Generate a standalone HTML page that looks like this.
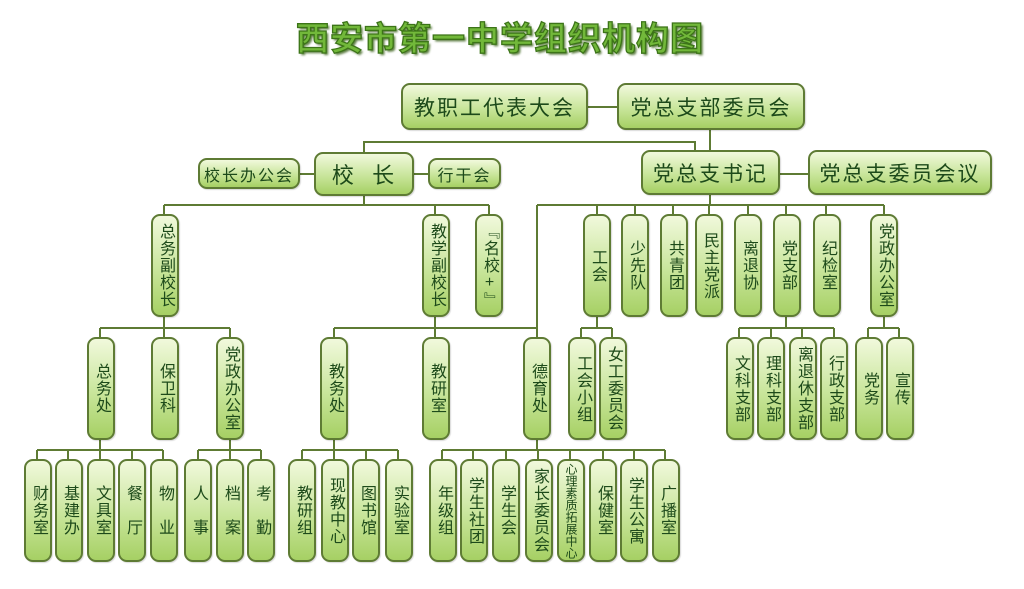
<!DOCTYPE html>
<html><head><meta charset="utf-8">
<style>
html,body{margin:0;padding:0;background:#fff;}
body{width:1024px;height:589px;position:relative;overflow:hidden;font-family:"Liberation Sans","Noto Sans CJK SC",sans-serif;}
.b{position:absolute;box-sizing:border-box;border:2px solid #5e7b34;border-radius:9px;background:linear-gradient(#f1f9dc,#c8e59a 55%,#a6d064);color:#1d4a1a;display:flex;align-items:center;justify-content:center;box-shadow:1px 1px 1px rgba(0,0,0,.15);}
.v{writing-mode:vertical-rl;text-orientation:upright;font-size:16px;letter-spacing:1px;line-height:1;}
.h{font-size:20px;letter-spacing:2px;}
#title{position:absolute;left:0;width:1000px;top:12px;text-align:center;font-size:33px;font-weight:bold;color:#72b83a;letter-spacing:1px;-webkit-text-stroke:1.3px #3c7418;text-shadow:2px 2px 2px #5d7d42;font-family:"Noto Sans CJK SC",sans-serif;}
svg{position:absolute;left:0;top:0;}
</style></head><body>
<div id="title">西安市第一中学组织机构图</div>
<svg width="1024" height="589"><g stroke="#5e7b34" stroke-width="2" fill="none">
<path d="M588 107H617M710 130V150M364 152V142H695V150M300 174H314M414 174H428M780 174H808"/>
<path d="M364 196V205M164 205H489M164 205V214M435 205V214M489 205V214"/>
<path d="M710 195V205M537 205H884M597 205V214M635 205V214M673 205V214M709 205V214M748 205V214M786 205V214M826 205V214M884 205V214"/>
<path d="M537 205V337M164 317V328M100 328H230M100 328V337M164 328V337M230 328V337"/>
<path d="M435 317V328M334 328H537M334 328V337M435 328V337"/>
<path d="M597 317V328M581 328H612M581 328V337M612 328V337"/>
<path d="M786 317V328M739 328H834M739 328V337M771 328V337M802 328V337M834 328V337"/>
<path d="M884 317V328M868 328H899M868 328V337M899 328V337"/>
<path d="M100 439V450M37 450H163M37 450V459M68 450V459M100 450V459M132 450V459M163 450V459"/>
<path d="M230 439V450M198 450H261M198 450V459M230 450V459M261 450V459"/>
<path d="M334 439V450M302 450H398M302 450V459M334 450V459M366 450V459M398 450V459"/>
<path d="M537 439V450M442 450H665M442 450V459M473 450V459M506 450V459M538 450V459M570 450V459M603 450V459M634 450V459M665 450V459"/>
</g></svg>
<div id="c"></div>
<script>
var H=[[401,83,187,47,"教职工代表大会",21],[617,83,188,47,"党总支部委员会",21],[314,152,100,44,"校&nbsp;&nbsp;长",22],[198,158,102,31,"校长办公会",16],[428,158,73,31,"行干会",16],[641,150,139,45,"党总支书记",21],[808,150,184,45,"党总支委员会议",21]];
var V=[
[151,214,"总务副校长"],[422,214,"教学副校长"],[475,214,"『名校+』"],
[583,214,"工会"],[621,214,"少先队"],[660,214,"共青团"],[695,214,"民主党派"],[734,214,"离退协"],[773,214,"党支部"],[813,214,"纪检室"],[870,214,"党政办公室"],
[87,337,"总务处"],[151,337,"保卫科"],[216,337,"党政办公室"],[320,337,"教务处"],[422,337,"教研室"],[523,337,"德育处"],[568,337,"工会小组"],[599,337,"女工委员会"],
[726,337,"文科支部"],[757,337,"理科支部"],[789,337,"离退休支部"],[820,337,"行政支部"],[855,337,"党务"],[886,337,"宣传"],
[24,459,"财务室"],[55,459,"基建办"],[87,459,"文具室"],[118,459,"餐　厅"],[150,459,"物　业"],[184,459,"人　事"],[216,459,"档　案"],[247,459,"考　勤"],
[288,459,"教研组"],[321,459,"现教中心"],[352,459,"图书馆"],[385,459,"实验室"],
[429,459,"年级组"],[460,459,"学生社团"],[492,459,"学生会"],[525,459,"家长委员会"],[557,459,"心理素质拓展中心",12],[589,459,"保健室"],[620,459,"学生公寓"],[652,459,"广播室"]];
var s="";
H.forEach(function(a){s+='<div class="b h" style="left:'+a[0]+'px;top:'+a[1]+'px;width:'+a[2]+'px;height:'+a[3]+'px;font-size:'+a[5]+'px">'+a[4]+'</div>';});
V.forEach(function(a){s+='<div class="b v" style="left:'+a[0]+'px;top:'+a[1]+'px;width:28px;height:103px;'+(a[3]?'font-size:'+a[3]+'px;letter-spacing:0':'')+'">'+a[2]+'</div>';});
document.getElementById("c").innerHTML=s;
</script>
</body></html>
